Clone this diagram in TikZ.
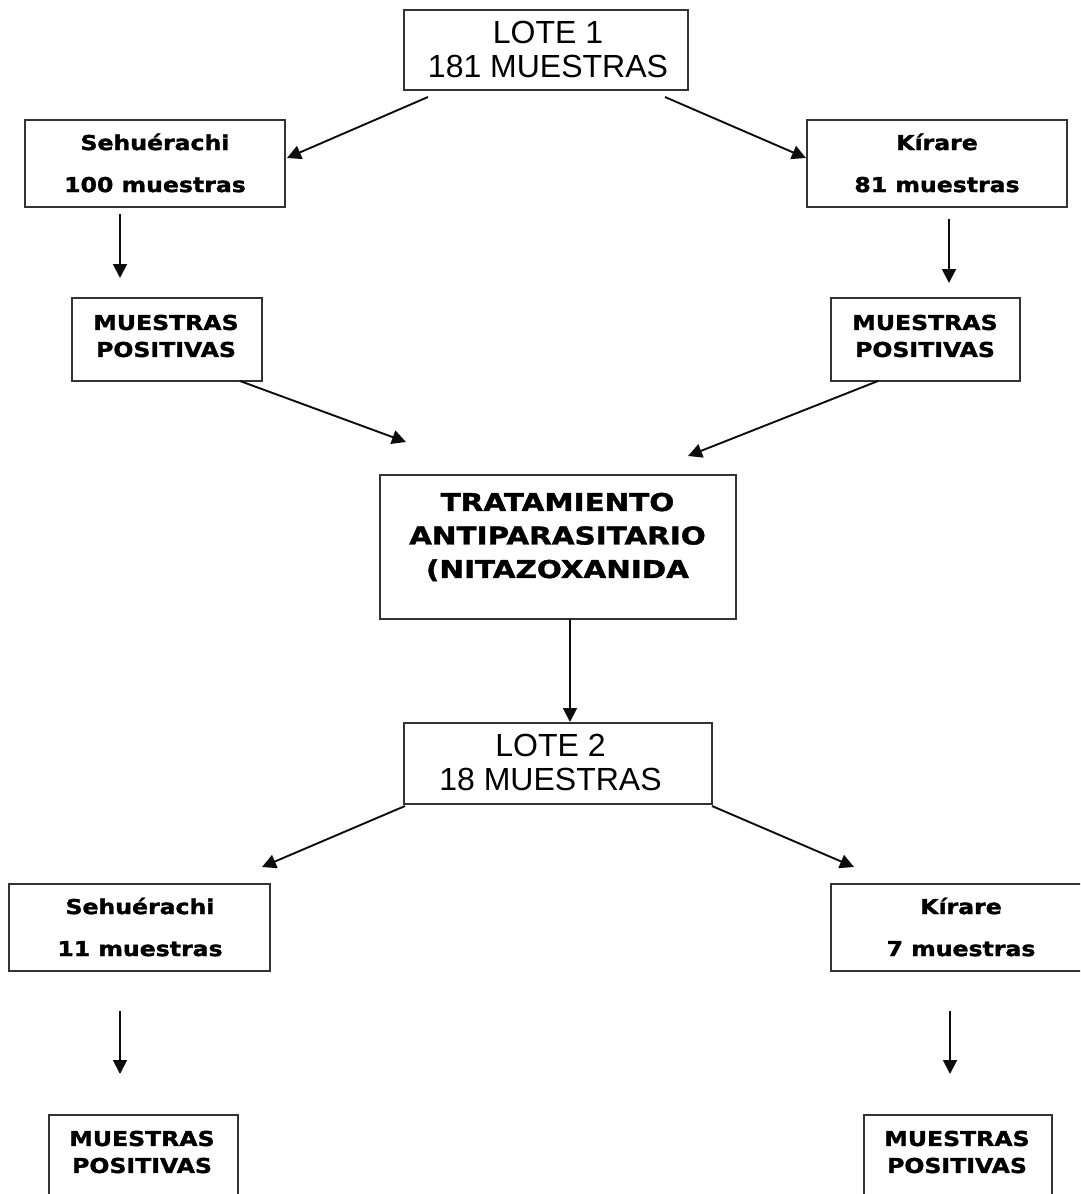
\documentclass[tikz,border=0pt]{standalone}
\usepackage{fontspec}
\setmainfont{DejaVu Sans}
\newfontfamily\vb[FakeStretch=1.15,FakeBold=1.6]{DejaVu Sans Bold}
\newfontfamily\vbw[FakeStretch=1.2,FakeBold=1.6]{DejaVu Sans Bold}
\newfontfamily\ar{Liberation Sans}
\usetikzlibrary{arrows.meta}
\begin{document}
\begin{tikzpicture}[x=1pt,y=-1pt,
  box/.style={draw=black!80, line width=1.8pt, inner sep=0pt},
  arr/.style={-{Triangle[length=14pt,width=14pt]}, line width=1.9pt, black!95},
  lote/.style={align=center, inner sep=0pt, font=\ar\fontsize{32}{34}\selectfont},
  two/.style={align=center, inner sep=0pt, font=\vb\fontsize{20.5}{42}\selectfont},
  mp/.style={align=center, inner sep=0pt, font=\vb\fontsize{20.5}{27}\selectfont},
  trat/.style={align=center, inner sep=0pt, font=\vbw\fontsize{24.5}{33.5}\selectfont}]
\path[use as bounding box] (0,0) rectangle (1080,1194);
\clip (0,0) rectangle (1080,1194);

% boxes
\node[box, minimum width=284, minimum height=80] (lote1) at (546,50) {};
\node[box, minimum width=260, minimum height=87] (seh1) at (155,163.5) {};
\node[box, minimum width=260, minimum height=87] (kir1) at (937,163.5) {};
\node[box, minimum width=190, minimum height=83] (mp1) at (167,339.5) {};
\node[box, minimum width=189, minimum height=83] (mp2) at (925.5,339.5) {};
\node[box, minimum width=356, minimum height=144] (trat) at (558,547) {};
\node[box, minimum width=308, minimum height=81] (lote2) at (558,763.5) {};
\node[box, minimum width=261, minimum height=87] (seh2) at (139.5,927.5) {};
\node[box, minimum width=259, minimum height=87] (kir2) at (960.5,927.5) {};
\node[box, minimum width=189, minimum height=90] (mp3) at (143.5,1160) {};
\node[box, minimum width=188, minimum height=90] (mp4) at (958,1160) {};

% texts
\node[lote] (t-lote1) at (548,49) {LOTE 1\\181 MUESTRAS};
\node[two] (t-seh1) at (155,163) {Sehuérachi\\100 muestras};
\node[two] (t-kir1) at (937,163) {Kírare\\81 muestras};
\node[mp] (t-mp1) at (166,336) {MUESTRAS\\POSITIVAS};
\node[mp] (t-mp2) at (925,336) {MUESTRAS\\POSITIVAS};
\node[trat] (t-trat) at (557.5,537) {TRATAMIENTO\\ANTIPARASITARIO\\(NITAZOXANIDA};
\node[lote] (t-lote2) at (550.5,762) {LOTE 2\\18 MUESTRAS};
\node[two] (t-seh2) at (140,927) {Sehuérachi\\11 muestras};
\node[two] (t-kir2) at (961,927) {Kírare\\7 muestras};
\node[mp] (t-mp3) at (142,1152) {MUESTRAS\\POSITIVAS};
\node[mp] (t-mp4) at (957,1152) {MUESTRAS\\POSITIVAS};

% connector end points
\coordinate (a1s) at (428,97);   \coordinate (a1e) at (287,158);
\coordinate (a2s) at (665,97);   \coordinate (a2e) at (806,158);
\coordinate (a3s) at (120,214);  \coordinate (a3e) at (120,278);
\coordinate (a4s) at (949,219);  \coordinate (a4e) at (949,283);
\coordinate (a5s) at (240,381);  \coordinate (a5e) at (406,442);
\coordinate (a6s) at (878,381);  \coordinate (a6e) at (688,456);
\coordinate (a7s) at (570,619);  \coordinate (a7e) at (570,722);
\coordinate (a8s) at (405,806);  \coordinate (a8e) at (262,867);
\coordinate (a9s) at (712,806);  \coordinate (a9e) at (854,867);
\coordinate (a10s) at (120,1011); \coordinate (a10e) at (120,1074);
\coordinate (a11s) at (950,1011); \coordinate (a11e) at (950,1074);

\draw[arr] (a1s) -- (a1e);
\draw[arr] (a2s) -- (a2e);
\draw[arr] (a3s) -- (a3e);
\draw[arr] (a4s) -- (a4e);
\draw[arr] (a5s) -- (a5e);
\draw[arr] (a6s) -- (a6e);
\draw[arr] (a7s) -- (a7e);
\draw[arr] (a8s) -- (a8e);
\draw[arr] (a9s) -- (a9e);
\draw[arr] (a10s) -- (a10e);
\draw[arr] (a11s) -- (a11e);
\end{tikzpicture}
\end{document}
